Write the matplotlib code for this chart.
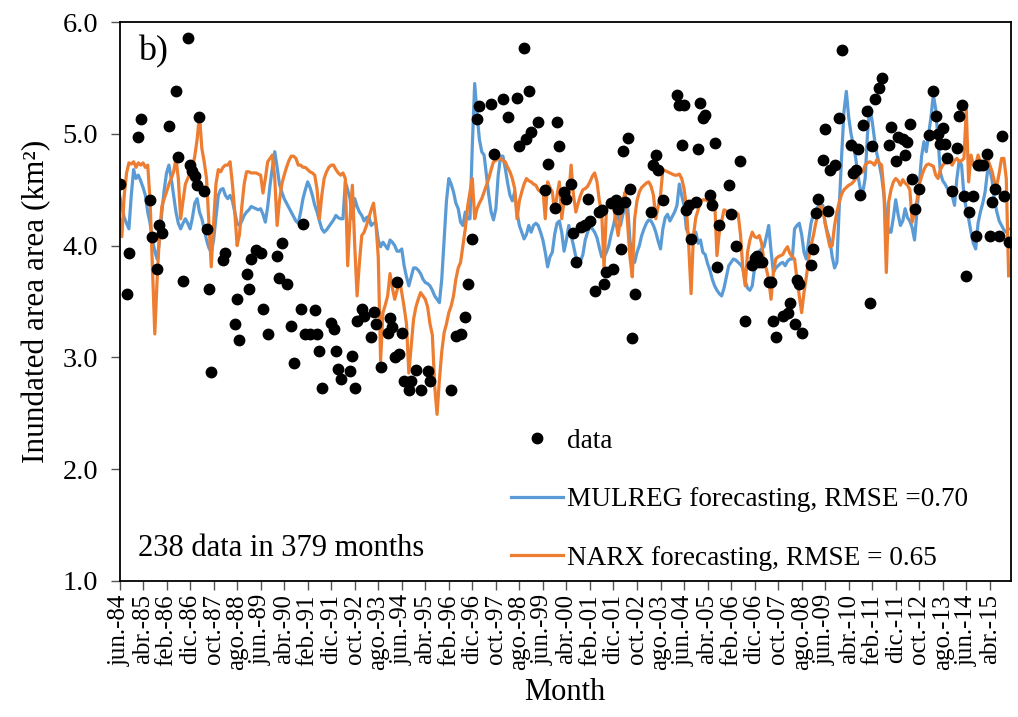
import numpy as np
import matplotlib.pyplot as plt

plt.rcParams['font.family'] = ['Liberation Serif', 'DejaVu Serif']

# monthly series, jun-84 .. dic-15 (379 months)
mulreg = [
    4.45, 4.35, 4.25, 4.20, 4.15, 4.45, 4.68, 4.60, 4.63, 4.58,
    4.52, 4.45, 4.30, 4.20, 4.05, 3.95, 3.88, 4.05, 4.30, 4.50,
    4.65, 4.72, 4.60, 4.45, 4.30, 4.20, 4.15, 4.20, 4.24, 4.20,
    4.15, 4.25, 4.38, 4.42, 4.30, 4.24, 4.15, 4.05, 3.98, 3.94,
    4.05, 4.25, 4.45, 4.50, 4.51, 4.45, 4.42, 4.45, 4.40, 4.30,
    4.20, 4.18, 4.22, 4.27, 4.30, 4.32, 4.35, 4.34, 4.33, 4.32,
    4.33, 4.28, 4.21, 4.35, 4.54, 4.70, 4.84, 4.70, 4.55, 4.48,
    4.42, 4.38, 4.34, 4.30, 4.26, 4.22, 4.20, 4.30, 4.42, 4.50,
    4.57, 4.52, 4.45, 4.36, 4.30, 4.22, 4.15, 4.12, 4.14, 4.17,
    4.20, 4.23, 4.27, 4.25, 4.24, 4.24, 4.57, 4.50, 4.42, 4.24,
    4.42, 4.35, 4.30, 4.27, 4.22, 4.25, 4.26, 4.18, 4.20, 4.20,
    4.05, 3.99, 4.03, 4.00, 3.97, 4.05, 4.03, 4.00, 3.95, 3.95,
    3.97, 3.82, 3.72, 3.64, 3.72, 3.80, 3.80, 3.78, 3.75, 3.70,
    3.67, 3.66, 3.64, 3.60, 3.55, 3.52, 3.49, 3.70, 4.05, 4.40,
    4.60, 4.55, 4.48, 4.38, 4.33, 4.21, 4.18, 4.30, 4.24, 4.24,
    4.90, 5.45, 5.18, 4.95, 4.84, 4.81, 4.63, 4.45, 4.30, 4.23,
    4.33, 4.63, 4.80, 4.80, 4.69, 4.56, 4.45, 4.40, 4.48, 4.30,
    4.18, 4.12, 4.06, 4.10, 4.18, 4.12, 4.18, 4.20, 4.18, 4.12,
    4.05, 3.94, 3.81, 3.90, 3.94, 4.10, 4.20, 4.22, 4.12, 3.95,
    4.05, 4.18, 4.09, 4.00, 3.90, 3.81, 3.86, 3.92, 4.05, 4.12,
    4.18, 4.15, 4.12, 4.07, 3.98, 3.90, 3.90, 3.94, 4.00, 4.10,
    4.18, 4.28, 4.25, 4.18, 4.28, 4.34, 4.36, 4.05, 3.88, 3.85,
    3.94, 4.00, 4.09, 4.15, 4.20, 4.23, 4.22, 4.18, 4.12, 4.04,
    3.97, 4.15, 4.25, 4.28, 4.22, 4.26, 4.30, 4.36, 4.55, 4.45,
    4.36, 4.15, 4.10, 4.06, 4.09, 4.12, 4.02, 4.05, 3.94, 3.92,
    3.84, 3.78, 3.70, 3.64, 3.60, 3.57, 3.55, 3.62, 3.72, 3.82,
    3.85, 3.88, 3.87, 3.85, 3.83, 3.80, 3.68, 3.62, 3.60, 3.64,
    3.80, 3.90, 3.95, 3.97, 3.99, 4.08, 4.18, 3.95, 3.76, 3.80,
    3.82, 3.84, 3.85, 3.82, 3.86, 3.88, 3.88, 4.15, 4.18, 4.20,
    4.10, 3.94, 3.88, 4.05, 4.20, 4.28, 4.32, 4.35, 4.36, 4.36,
    4.20, 4.12, 4.05, 3.90, 3.80, 3.85, 4.35, 4.80, 5.20, 5.38,
    5.15, 5.00, 4.90, 4.78, 4.62, 4.50, 4.48, 4.60, 5.00, 5.24,
    5.11, 4.95, 4.82, 4.73, 4.62, 4.45, 4.25, 4.12, 4.12, 4.25,
    4.41, 4.28, 4.18, 4.22, 4.33, 4.25, 4.22, 4.16, 4.05, 4.30,
    4.55, 4.80, 4.93, 4.84, 5.00, 5.15, 5.35, 5.22, 4.95, 4.65,
    4.58, 4.55, 4.51, 4.48, 4.45, 4.36, 4.60, 4.76, 4.72, 4.45,
    4.33, 4.24, 4.12, 4.02, 3.97, 4.20, 4.30, 4.38, 4.48, 4.66,
    4.68, 4.58, 4.40, 4.30, 4.22, 4.18, 4.14, 4.12, 4.15,
]

narx = [
    4.24, 4.08, 4.45, 4.65, 4.74, 4.73, 4.75, 4.70, 4.74, 4.72,
    4.74, 4.70, 4.72, 4.40, 3.80, 3.21, 3.70, 4.10, 4.35, 4.42,
    4.48, 4.55, 4.60, 4.66, 4.78, 4.60, 4.24, 4.40, 4.55, 4.60,
    4.65, 4.70, 4.80, 4.95, 5.17, 4.87, 4.75, 4.60, 4.20, 3.81,
    4.20, 4.55, 4.68, 4.66, 4.70, 4.72, 4.72, 4.75, 4.55, 4.30,
    4.00, 4.10, 4.35, 4.55, 4.66, 4.66, 4.65, 4.65, 4.65, 4.64,
    4.63, 4.47, 4.60, 4.75, 4.78, 4.81, 4.60, 4.18, 4.40, 4.55,
    4.63, 4.70, 4.76, 4.80, 4.80, 4.78, 4.72, 4.72, 4.70, 4.70,
    4.68, 4.66, 4.65, 4.63, 4.50, 4.24, 4.45, 4.60, 4.66, 4.70,
    4.72, 4.72, 4.68, 4.65, 4.63, 4.65, 4.60, 3.82, 4.24, 4.54,
    4.00, 3.55, 3.85, 4.09, 4.12, 4.18, 4.25, 4.32, 4.38, 4.20,
    3.90, 2.97, 3.40, 3.47, 3.55, 3.75, 3.62, 3.52, 3.60, 3.70,
    3.58, 3.45, 3.30, 2.86, 3.10, 3.34, 3.45, 3.52, 3.58, 3.55,
    3.52, 3.45, 3.30, 3.20, 2.74, 2.49, 2.80, 3.05, 3.22, 3.30,
    3.40, 3.46, 3.55, 3.70, 3.80, 3.85, 4.00, 4.15, 4.35, 4.48,
    4.60, 4.24, 4.33, 4.38, 4.42, 4.48, 4.54, 4.60, 4.68, 4.75,
    4.76, 4.78, 4.78, 4.76, 4.75, 4.70, 4.66, 4.60, 4.51, 4.24,
    4.40, 4.48, 4.55, 4.60, 4.58, 4.57, 4.55, 4.54, 4.50, 4.48,
    4.51, 4.24, 4.57, 4.52, 4.48, 4.30, 4.45, 4.57, 4.24, 4.40,
    4.48, 4.45, 4.72, 4.45, 4.30, 4.38, 4.45, 4.50, 4.51, 4.53,
    4.57, 4.62, 4.65, 4.57, 4.40, 4.30, 3.79, 4.33, 4.38, 4.39,
    4.36, 4.22, 4.09, 4.25, 4.40, 4.48, 4.20, 3.90, 3.72, 4.24,
    4.40, 4.48, 4.52, 4.54, 4.56, 4.57, 4.53, 4.45, 4.24, 4.35,
    4.45, 4.68, 4.67, 4.66, 4.65, 4.64, 4.63, 4.63, 4.64, 4.60,
    4.51, 4.35, 4.00, 3.57, 4.09, 4.25, 4.32, 4.39, 4.41, 4.41,
    4.40, 4.40, 4.40, 4.41, 3.91, 4.12, 4.22, 4.32, 4.31, 4.30,
    4.26, 4.24, 4.30, 4.28, 4.10, 3.80, 3.64, 3.94, 4.05, 4.12,
    4.08, 4.07, 4.09, 4.02, 3.85, 3.79, 3.70, 3.52, 3.76, 3.88,
    3.90, 3.91, 3.92, 3.96, 3.99, 3.93, 3.90, 3.88, 3.70, 3.55,
    3.40, 3.58, 3.72, 3.88, 4.00, 4.09, 4.20, 4.28, 4.36, 4.33,
    4.20, 4.09, 3.99, 4.00, 4.18, 4.30, 4.39, 4.46, 4.50, 4.52,
    4.54, 4.55, 4.57, 4.60, 4.63, 4.65, 4.66, 4.72, 4.74, 4.75,
    4.74, 4.72, 4.77, 4.74, 4.72, 4.48, 3.76, 4.39, 4.50, 4.57,
    4.60, 4.58, 4.54, 4.59, 4.56, 4.54, 4.50, 4.21, 4.30, 4.40,
    4.54, 4.62, 4.68, 4.72, 4.73, 4.72, 4.71, 4.63, 4.60, 4.68,
    4.72, 4.74, 4.77, 4.75, 4.72, 4.76, 4.78, 4.75, 4.76, 4.78,
    5.22, 4.57, 4.81, 4.72, 4.72, 4.81, 4.75, 4.74, 4.72, 4.78,
    4.72, 4.66, 4.57, 4.54, 4.65, 4.78, 4.78, 4.60, 3.73,
]

# observed inundated area (month index, km2)
data_month = [
    0, 3, 4, 8, 9, 13, 14, 16, 17, 18, 21, 24, 25, 27, 29, 30, 31, 32, 33, 34,
    36, 37, 38, 39, 44, 45, 49, 50, 51, 54, 55, 56, 58, 60, 61, 63, 67, 68, 69, 71,
    73, 74, 77, 78, 79, 81, 83, 84, 85, 86, 90, 91, 92, 93, 94, 98, 99, 100, 101, 103,
    104, 107, 108, 109, 111, 114, 115, 116, 117, 118, 119, 120, 121, 123, 124, 126, 128, 131, 132, 141,
    143, 145, 147, 148, 150, 152, 153, 158, 159, 163, 165, 169, 170, 172, 173, 174, 175, 178, 181, 182,
    185, 186, 187, 189, 190, 192, 193, 194, 196, 198, 199, 200, 202, 204, 205, 206, 207, 209, 210, 211,
    212, 213, 214, 215, 216, 217, 218, 219, 226, 227, 228, 229, 231, 237, 238, 239, 240, 241, 242, 243,
    245, 246, 247, 248, 249, 251, 252, 253, 254, 255, 259, 260, 262, 264, 266, 269, 270, 271, 272, 273,
    276, 277, 278, 279, 282, 284, 285, 287, 288, 289, 290, 294, 295, 296, 297, 299, 300, 301, 302, 304,
    306, 307, 311, 312, 313, 314, 315, 316, 318, 319, 320, 321, 323, 324, 327, 328, 330, 331, 333, 334,
    335, 336, 337, 338, 340, 344, 346, 347, 348, 349, 350, 351, 352, 354, 356, 357, 358, 359, 360, 361,
    363, 364, 365, 366, 367, 369, 370, 371, 372, 374, 375, 376, 378,
]
data_area = [
    4.55, 3.57, 3.93, 4.97, 5.13, 4.41, 4.08, 3.79, 4.18, 4.11, 5.07, 5.38, 4.79, 3.68, 5.86, 4.72, 4.67, 4.62, 4.54, 5.15,
    4.49, 4.15, 3.61, 2.87, 3.87, 3.93, 3.30, 3.52, 3.16, 3.75, 3.61, 3.88, 3.96, 3.93, 3.43, 3.21, 3.91, 3.71, 4.02, 3.66,
    3.28, 2.95, 3.43, 4.19, 3.21, 3.21, 3.42, 3.21, 3.06, 2.73, 3.31, 3.25, 3.06, 2.90, 2.81, 2.88, 3.01, 2.73, 3.33, 3.43,
    3.37, 3.18, 3.41, 3.30, 2.91, 3.22, 3.35, 3.27, 3.00, 3.67, 3.03, 3.22, 2.79, 2.71, 2.79, 2.89, 2.71, 2.88, 2.79, 2.71,
    3.19, 3.21, 3.36, 3.66, 4.06, 5.13, 5.25, 5.27, 4.82, 5.31, 5.15, 5.32, 4.89, 5.77, 4.95, 5.38, 5.02, 5.11, 4.50, 4.73,
    4.34, 5.11, 4.89, 4.48, 4.42, 4.55, 4.11, 3.85, 4.17, 4.18, 4.42, 4.22, 3.59, 4.30, 4.32, 3.66, 3.76, 4.38, 3.79, 4.41,
    4.33, 3.97, 4.85, 4.39, 4.96, 4.51, 3.17, 3.57, 4.30, 4.72, 4.81, 4.68, 4.41, 5.35, 5.26, 4.90, 5.26, 4.32, 4.36, 4.06,
    4.39, 4.86, 5.28, 5.14, 5.17, 4.45, 4.36, 4.92, 3.81, 4.18, 4.54, 4.28, 4.00, 4.76, 3.33, 3.83, 3.89, 3.91, 3.85, 3.85,
    3.67, 3.67, 3.33, 3.18, 3.37, 3.40, 3.49, 3.30, 3.69, 3.66, 3.22, 3.83, 3.97, 4.29, 4.42, 4.77, 5.04, 4.31, 4.68, 4.72,
    5.14, 5.75, 4.90, 4.65, 4.68, 4.86, 4.45, 5.08, 5.20, 3.49, 4.89, 5.31, 5.41, 5.50, 4.90, 5.06, 4.76, 4.97, 4.95, 4.81,
    4.93, 5.09, 4.60, 4.33, 4.51, 4.99, 5.38, 5.16, 5.00, 4.91, 5.05, 4.91, 4.78, 4.49, 4.87, 5.16, 5.26, 4.44, 3.73, 4.30,
    4.44, 4.09, 4.72, 4.72, 4.72, 4.82, 4.09, 4.39, 4.51, 4.09, 4.98, 4.44, 4.03,
]

tick_months = list(range(0, 379, 10))
tick_labels = [
    'jun.-84', 'abr.-85', 'feb.-86', 'dic.-86', 'oct.-87', 'ago.-88', 'jun.-89',
    'abr.-90', 'feb.-91', 'dic.-91', 'oct.-92', 'ago.-93', 'jun.-94', 'abr.-95',
    'feb.-96', 'dic.-96', 'oct.-97', 'ago.-98', 'jun.-99', 'abr.-00', 'feb.-01',
    'dic.-01', 'oct.-02', 'ago.-03', 'jun.-04', 'abr.-05', 'feb.-06', 'dic.-06',
    'oct.-07', 'ago.-08', 'jun.-09', 'abr.-10', 'feb.-11', 'dic.-11', 'oct.-12',
    'ago.-13', 'jun.-14', 'abr.-15',
]

months = np.arange(len(mulreg))

fig = plt.figure(figsize=(10.18, 7.17), dpi=100)
ax = fig.add_axes([0.1174, 0.1897, 0.8757, 0.7796])

ax.plot(months, mulreg, color='#5B9BD5', lw=2.3,
        label='MULREG forecasting, RMSE =0.70')
ax.plot(months, narx, color='#ED7D31', lw=2.3,
        label='NARX forecasting, RMSE = 0.65')
ax.plot(data_month, data_area, 'o', color='black', ms=7.5, label='data')

ax.set_xlim(0, 379)
ax.set_ylim(1, 6)
ax.set_yticks([1, 2, 3, 4, 5, 6])
ax.set_yticklabels(['%.1f' % v for v in [1, 2, 3, 4, 5, 6]], fontsize=20.5)
ax.set_xticks(tick_months)
ax.set_xticklabels(tick_labels, rotation=90, fontsize=18)
ax.tick_params(axis='both', direction='out', length=6.5, width=1, color='#555555')
ax.tick_params(axis='y', pad=9)
ax.tick_params(axis='x', pad=3)
for s in ax.spines.values():
    s.set_linewidth(1.3)
    s.set_color('black')

ax.set_ylabel('Inundated area area (km²)', fontsize=22.5, labelpad=8)
ax.set_xlabel('Month', fontsize=22, labelpad=6)

ax.text(0.0208, 0.946, 'b)', transform=ax.transAxes, fontsize=26, va='center')
ax.text(0.0208, 0.059, '238 data in 379 months', transform=ax.transAxes,
        fontsize=22, va='center')

h, l = ax.get_legend_handles_labels()
ax.legend([h[2], h[0], h[1]], [l[2], l[0], l[1]], loc='upper left',
          bbox_to_anchor=(0.4395, 0.272), frameon=False, fontsize=19.6,
          handlelength=1.9, handletextpad=0.14, labelspacing=1.22,
          borderpad=0, borderaxespad=0, numpoints=1)

fig.savefig('out.png', dpi=100)
